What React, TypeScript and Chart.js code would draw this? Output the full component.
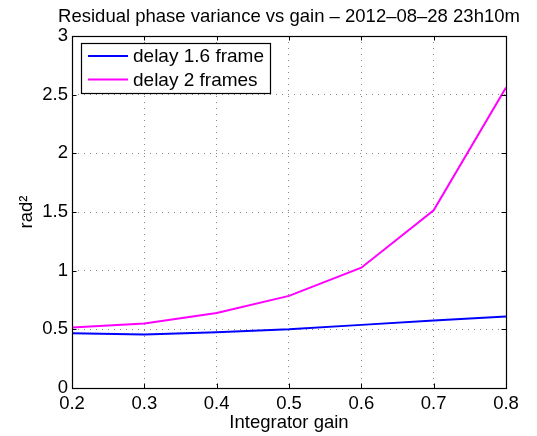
import React, { useEffect, useRef } from "react";
import { Chart, registerables } from "chart.js";

Chart.register(...registerables);

const gains = [0.2, 0.3, 0.4, 0.5, 0.6, 0.7, 0.8];
const delay16 = [0.467, 0.456, 0.476, 0.5, 0.538, 0.575, 0.609];
const delay2 = [0.515, 0.55, 0.64, 0.785, 1.025, 1.515, 2.56];
const xTicks = [0.2, 0.3, 0.4, 0.5, 0.6, 0.7, 0.8];
const yTicks = [0, 0.5, 1, 1.5, 2, 2.5, 3];
const seriesLabels = ["delay 1.6 frame", "delay 2 frames"];
const seriesColors = ["#0000ff", "#ff00ff"];
const titleText = "Residual phase variance vs gain \u2013 2012\u201308\u201328 23h10m";
const xTitle = "Integrator gain";
const yTitle = "rad\u00b2";

const FONT = '"Liberation Sans", Arial, Helvetica, sans-serif';

const framePlugin = {
  id: "matlabFrame",
  afterDatasetsDraw(chart: any) {
    const { ctx, chartArea, scales } = chart;
    const { left, right, top, bottom } = chartArea;
    const x = scales.x;
    const y = scales.y;
    const T = 4.5;
    ctx.save();
    ctx.strokeStyle = "#000";
    ctx.lineWidth = 1;
    ctx.beginPath();
    xTicks.forEach((v) => {
      const px = Math.round(x.getPixelForValue(v)) + 0.5;
      ctx.moveTo(px, bottom);
      ctx.lineTo(px, bottom - T);
      ctx.moveTo(px, top);
      ctx.lineTo(px, top + T);
    });
    yTicks.forEach((v) => {
      const py = Math.round(y.getPixelForValue(v)) + 0.5;
      ctx.moveTo(left, py);
      ctx.lineTo(left + T, py);
      ctx.moveTo(right, py);
      ctx.lineTo(right - T, py);
    });
    ctx.stroke();
    ctx.lineWidth = 1.2;
    ctx.strokeRect(Math.round(left) + 0.5, Math.round(top) + 0.5, Math.round(right - left), Math.round(bottom - top));

    // title
    ctx.fillStyle = "#000";
    ctx.font = `18.5px ${FONT}`;
    ctx.textAlign = "center";
    ctx.textBaseline = "alphabetic";
    ctx.fillText(titleText, (left + right) / 2, 21.8);

    // legend
    ctx.font = `19px ${FONT}`;
    const bx = Math.round(left + 9) + 0.5;
    const by = Math.round(top + 7) + 0.5;
    const textX = left + 61;
    let maxW = 0;
    chart.data.datasets.forEach((d: any) => {
      maxW = Math.max(maxW, ctx.measureText(d.label).width);
    });
    const bw = Math.round(textX + maxW + 7 - bx);
    const bh = 50;
    ctx.fillStyle = "#fff";
    ctx.fillRect(bx, by, bw, bh);
    ctx.strokeStyle = "#000";
    ctx.lineWidth = 1.2;
    ctx.strokeRect(bx, by, bw, bh);
    const rowsY = [top + 20, top + 43.5];
    chart.data.datasets.forEach((d: any, i: number) => {
      ctx.strokeStyle = d.borderColor;
      ctx.lineWidth = 2;
      ctx.beginPath();
      ctx.moveTo(left + 16, rowsY[i]);
      ctx.lineTo(left + 56, rowsY[i]);
      ctx.stroke();
      ctx.fillStyle = "#000";
      ctx.textBaseline = "middle";
      ctx.textAlign = "left";
      ctx.fillText(d.label, textX, rowsY[i] + 1);
    });
    ctx.restore();
  },
};

export default function App() {
  const ref = useRef<HTMLCanvasElement | null>(null);

  useEffect(() => {
    if (!ref.current) return;
    const chart = new Chart(ref.current, {
      type: "line",
      data: {
        datasets: [
          {
            label: seriesLabels[0],
            data: gains.map((g, i) => ({ x: g, y: delay16[i] })),
            borderColor: seriesColors[0],
            backgroundColor: seriesColors[0],
            borderWidth: 2,
            pointRadius: 0,
            tension: 0,
          },
          {
            label: seriesLabels[1],
            data: gains.map((g, i) => ({ x: g, y: delay2[i] })),
            borderColor: seriesColors[1],
            backgroundColor: seriesColors[1],
            borderWidth: 2,
            pointRadius: 0,
            tension: 0,
          },
        ],
      },
      options: {
        responsive: false,
        animation: false,
        devicePixelRatio: 1,
        layout: { padding: { left: 0, right: 31, top: 36, bottom: 0 } },
        plugins: {
          legend: { display: false },
          tooltip: { enabled: false },
          title: { display: false },
        },
        scales: {
          x: {
            type: "linear",
            min: 0.2,
            max: 0.8,
            afterBuildTicks: (s: any) => {
              s.ticks = xTicks.map((v) => ({ value: v }));
            },
            afterFit: (s: any) => {
              s.height = 48;
            },
            ticks: {
              color: "#000",
              padding: 4.5,
              maxRotation: 0,
              autoSkip: false,
              font: { family: FONT, size: 18.5 },
              callback: (v: any) => Number(v).toFixed(1),
            },
            grid: {
              color: "#888",
              lineWidth: 1,
              drawTicks: false,
            },
            border: { display: false, dash: [1, 5] },
            title: {
              display: true,
              text: xTitle,
              color: "#000",
              font: { family: FONT, size: 18.5 },
              padding: { top: 0, bottom: 2.3 },
            },
          },
          y: {
            type: "linear",
            min: 0,
            max: 3,
            afterBuildTicks: (s: any) => {
              s.ticks = yTicks.map((v) => ({ value: v }));
            },
            afterFit: (s: any) => {
              s.width = 72;
            },
            ticks: {
              color: "#000",
              padding: 4,
              autoSkip: false,
              font: { family: FONT, size: 18.5 },
              callback: (v: any) => String(Number(v)),
            },
            grid: {
              color: "#888",
              lineWidth: 1,
              drawTicks: false,
            },
            border: { display: false, dash: [1, 5] },
            title: {
              display: true,
              text: yTitle,
              color: "#000",
              font: { family: FONT, size: 18.5 },
              padding: { top: 16, bottom: 0 },
            },
          },
        },
      },
      plugins: [framePlugin],
    } as any);
    return () => chart.destroy();
  }, []);

  return (
    <div style={{ position: "fixed", left: 0, top: 0, width: 537, height: 436, background: "#fff" }}>
      <canvas ref={ref} width={537} height={436} style={{ width: 537, height: 436, display: "block" }} />
    </div>
  );
}
